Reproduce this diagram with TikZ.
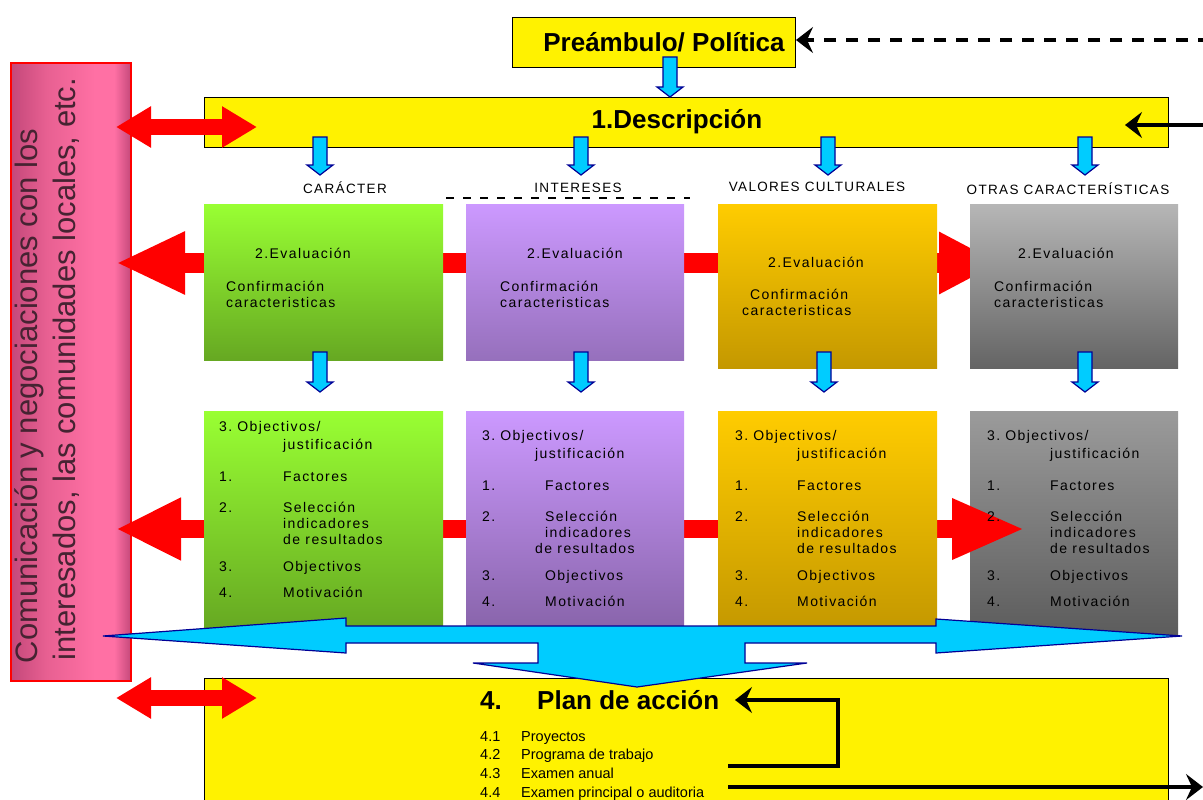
\documentclass[tikz,border=0pt]{standalone}
\usepackage{fontspec}
\setmainfont{Liberation Sans}
\newfontfamily\trk[LetterSpace=10]{Liberation Sans}
\usetikzlibrary{arrows.meta}
\definecolor{gtop}{RGB}{153,255,51}
\definecolor{gbot}{RGB}{102,168,34}
\definecolor{ptop}{RGB}{204,153,255}
\definecolor{pbot}{RGB}{150,112,188}
\definecolor{pbotb}{RGB}{136,100,170}
\definecolor{otop}{RGB}{255,204,0}
\definecolor{obot}{RGB}{196,152,0}
\definecolor{stop}{RGB}{182,182,182}
\definecolor{sbot}{RGB}{100,100,100}
\definecolor{stopb}{RGB}{155,155,155}
\definecolor{sbotb}{RGB}{92,92,92}
\definecolor{cyanb}{RGB}{0,204,255}
\definecolor{navyb}{RGB}{0,0,150}
\definecolor{pkdark}{RGB}{196,72,122}
\definecolor{pkmid}{RGB}{232,96,146}
\definecolor{pklight}{RGB}{255,112,164}
\definecolor{pktext}{RGB}{70,35,50}
\pgfdeclarehorizontalshading{pinkshade}{100bp}{color(0bp)=(pkdark); color(25bp)=(pkdark); color(40bp)=(pkmid); color(60bp)=(pklight); color(68bp)=(pklight); color(75bp)=(pkdark); color(100bp)=(pkdark)}
\newcommand\evtxt[7]{%
  \node[tx] (#1a) at (#2,#3) {2.Evaluación};
  \node[tx] (#1b) at (#4,#5) {Confirmación};
  \node[tx] (#1c) at (#6,#7) {caracteristicas};}
\newcommand\objtxt[6]{%
  \node[tx] (#1a) at (#2,#6) {3.\hspace{5pt}Objectivos/};
  \node[tx] (#1b) at (#3,#6+18) {justificación};
  \node[tx] (#1c) at (#2,#6+50) {1.};
  \node[tx] (#1d) at (#4,#6+50) {Factores};
  \node[tx] (#1e) at (#2,#6+81) {2.};
  \node[tx] (#1f) at (#4,#6+81) {Selección};
  \node[tx] (#1g) at (#4,#6+97) {indicadores};
  \node[tx] (#1h) at (#5,#6+113) {de resultados};
  \node[tx] (#1i) at (#2,#6+140) {3.};
  \node[tx] (#1j) at (#4,#6+140) {Objectivos};
  \node[tx] (#1k) at (#2,#6+166) {4.};
  \node[tx] (#1l) at (#4,#6+166) {Motivación};}
\newcommand\bdn[3]{\filldraw[bluearr] (#1-7,#2) -- (#1+7,#2) -- (#1+7,#3-10) -- (#1+13,#3-10) -- (#1,#3) -- (#1-13,#3-10) -- (#1-7,#3-10) -- cycle;}
\begin{document}
\begin{tikzpicture}[x=1pt,y=-1pt,
  ybox/.style={draw=black, line width=1pt, fill=yellow, anchor=north west, inner sep=0},
  cbox/.style={anchor=north west, inner sep=0, draw=none},
  lbl/.style={anchor=base, font=\trk\fontsize{13.5}{15}\selectfont, inner sep=0},
  tx/.style={anchor=base west, font=\trk\fontsize{14}{16}\selectfont, inner sep=0},
  big/.style={font=\bfseries\fontsize{26}{30}\selectfont, inner sep=0},
  bluearr/.style={fill=cyanb, draw=navyb, line width=1.2pt},
  blk/.style={draw=black, line width=4pt, -{Stealth[length=17pt,width=26pt,inset=6pt]}},
  redbig/.style={draw=red, line width=20pt, line cap=butt},
  redsmall/.style={draw=red, line width=16pt, line cap=butt,
    {Triangle[length=35pt,width=39pt]}-{Triangle[length=35pt,width=39pt]}}
]
\clip (0,0) rectangle (1203,800);
\fill[white] (0,0) rectangle (1203,800);

% pink side box
\node[cbox, draw=red, line width=2pt, shading=pinkshade, minimum width=120pt, minimum height=618pt] (pink) at (10,62) {};
\node[rotate=90, text=pktext, font=\fontsize{31}{34}\selectfont, inner sep=0] (pk1) at (29,396) {Comunicación y negociaciones con los};
\node[rotate=90, text=pktext, font=\fontsize{31}{34}\selectfont, inner sep=0] (pk2) at (66,369) {interesados, las comunidades locales, etc.};

% row 1 red arrow (behind boxes)
\coordinate (r1a) at (116,263);
\coordinate (r1b) at (1000,263);
\draw[redbig, {Triangle[length=69pt,width=58pt]}-{Triangle[length=61pt,width=58pt]}] (r1a) -- (r1b);

% gray boxes
\node[cbox, top color=stop, bottom color=sbot, minimum width=208pt, minimum height=164pt] (e4) at (970,204) {};
\node[cbox, top color=stopb, bottom color=sbotb, minimum width=208pt, minimum height=224pt] (o4) at (970,411) {};

% row 2 red arrow
\coordinate (r2a) at (116,529);
\coordinate (r2b) at (1025,529);
\draw[redbig, line width=18pt, {Triangle[length=65pt,width=58pt]}-{Triangle[length=73pt,width=56pt]}] (r2a) -- (r2b);

% other boxes
\node[cbox, top color=gtop, bottom color=gbot, minimum width=239pt, minimum height=156pt] (e1) at (204,204) {};
\node[cbox, top color=ptop, bottom color=pbot, minimum width=218pt, minimum height=156pt] (e2) at (466,204) {};
\node[cbox, top color=otop, bottom color=obot, minimum width=219pt, minimum height=164pt] (e3) at (718,204) {};
\node[cbox, top color=gtop, bottom color=gbot, minimum width=239pt, minimum height=219pt] (o1) at (204,411) {};
\node[cbox, top color=ptop, bottom color=pbotb, minimum width=218pt, minimum height=219pt] (o2) at (466,411) {};
\node[cbox, top color=otop, bottom color=obot, minimum width=219pt, minimum height=219pt] (o3) at (718,411) {};

% box texts
\evtxt{ga}{255}{258}{226}{291}{226}{307}
\evtxt{pa}{527}{258}{500}{291}{500}{307}
\evtxt{oa}{768}{267}{750}{299}{742}{315}
\evtxt{sa}{1018}{258}{994}{291}{994}{307}
\objtxt{gb}{219}{283}{283}{283}{431}
\objtxt{pb}{482}{535}{545}{535}{440}
\objtxt{ob}{735}{797}{797}{797}{440}
\objtxt{sb}{987}{1050}{1050}{1050}{440}

% column labels
\node[lbl] (l1) at (345,193) {CARÁCTER};
\node[lbl] (l2) at (578,192) {INTERESES};
\node[lbl] (l3) at (817,191) {VALORES CULTURALES};
\node[lbl] (l4) at (1068,194) {OTRAS CARACTERÍSTICAS};
\draw[line width=1.5pt, dash pattern=on 8pt off 9pt] (446,198) -- (690,198);

% top boxes
\node[ybox, minimum width=283pt, minimum height=50pt] (pre) at (512,17) {};
\node[big] (pret) at (664,42) {Preámbulo/ Política};
\node[ybox, minimum width=964pt, minimum height=50pt] (desc) at (204,97) {};
\node[big] (desct) at (677,122) {1.Descripción};

% blue small arrows
\bdn{670}{57}{97}
\bdn{320}{137}{175}
\bdn{581}{137}{175}
\bdn{828}{137}{175}
\bdn{1085}{137}{175}
\bdn{320}{352}{392}
\bdn{581}{352}{392}
\bdn{824}{352}{392}
\bdn{1085}{352}{392}

% top red double arrow
\coordinate (t1) at (116,127);
\coordinate (t2) at (257,127);
\draw[redsmall] (t1) -- (t2);

% black arrows top
\coordinate (d0) at (1210,40);
\draw[blk, dash pattern=on 12pt off 10pt] (d0) -- (pre.east |- d0);
\coordinate (s0) at (1210,125);
\coordinate (s1) at (1125,125);
\draw[blk] (s0) -- (s1);

% plan box
\node[ybox, minimum width=964pt, minimum height=130pt] (plan) at (204,678) {};
\node[big, anchor=base west] (p4) at (480,709) {4.};
\node[big, anchor=base west] (pt) at (537,709) {Plan de acción};
\node[anchor=base west, font=\fontsize{14.5}{16}\selectfont, inner sep=0] (i1n) at (480,741) {4.1};
\node[anchor=base west, font=\fontsize{14.5}{16}\selectfont, inner sep=0] (i1) at (521,741) {Proyectos};
\node[anchor=base west, font=\fontsize{14.5}{16}\selectfont, inner sep=0] (i2n) at (480,759) {4.2};
\node[anchor=base west, font=\fontsize{14.5}{16}\selectfont, inner sep=0] (i2) at (521,759) {Programa de trabajo};
\node[anchor=base west, font=\fontsize{14.5}{16}\selectfont, inner sep=0] (i3n) at (480,778) {4.3};
\node[anchor=base west, font=\fontsize{14.5}{16}\selectfont, inner sep=0] (i3) at (521,778) {Examen anual};
\node[anchor=base west, font=\fontsize{14.5}{16}\selectfont, inner sep=0] (i4n) at (480,797) {4.4};
\node[anchor=base west, font=\fontsize{14.5}{16}\selectfont, inner sep=0] (i4) at (521,797) {Examen principal o auditoria};

% big blue arrow
\filldraw[bluearr] (103,636) -- (346,618) -- (346,626) -- (936,626) -- (936,619) -- (1182,636)
  -- (936,653) -- (936,643) -- (745,643) -- (745,663) -- (807,663) -- (637,687)
  -- (473,663) -- (538,663) -- (538,643) -- (346,643) -- (346,653) -- cycle;

% bottom red double arrow
\coordinate (b1) at (116,698);
\coordinate (b2) at (257,698);
\draw[redsmall] (b1) -- (b2);

% black arrows bottom
\coordinate (k1) at (728,766);
\coordinate (k2) at (838,766);
\coordinate (k3) at (838,700);
\coordinate (k4) at (735,700);
\draw[blk, line join=miter] (k1) -- (k2) -- (k3) -- (k4);
\coordinate (m1) at (728,787);
\coordinate (m2) at (1203,787);
\draw[blk] (m1) -- (m2);
\end{tikzpicture}
\end{document}
